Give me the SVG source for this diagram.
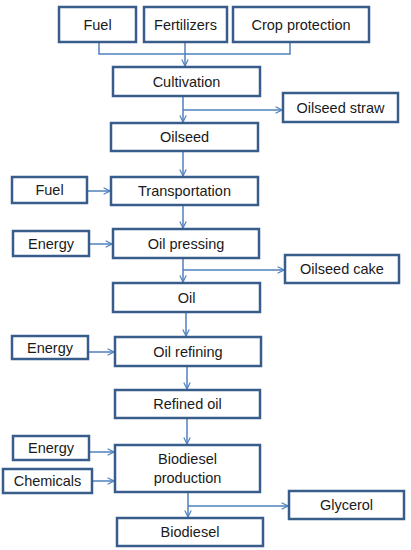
<svg xmlns="http://www.w3.org/2000/svg" width="411" height="550" viewBox="0 0 411 550">
<style>
.box{fill:#fff;stroke:#385D8A;stroke-width:2.5}
.lbl{font-family:"Liberation Sans",Arial,sans-serif;font-size:14.5px;fill:#1a1a1a;text-anchor:middle}
.con{fill:none;stroke:#4F81BD;stroke-width:1.5}
</style>
<defs>
<marker id="arr" viewBox="0 0 10 10" refX="9" refY="5" markerWidth="8" markerHeight="8" markerUnits="userSpaceOnUse" orient="auto">
<path d="M1,1 L9,5 L1,9" fill="none" stroke="#4F81BD" stroke-width="1.5"/>
</marker>
</defs>
<rect width="411" height="550" fill="#fff"/>
<g id="connectors">
<path class="con" d="M99,42 V54 H290 V42"/>
<path class="con" d="M185,42 V66" marker-end="url(#arr)"/>
<path class="con" d="M183,96 V122" marker-end="url(#arr)"/>
<path class="con" d="M183,110 H282" marker-end="url(#arr)"/>
<path class="con" d="M183,151 V176" marker-end="url(#arr)"/>
<path class="con" d="M87,191 H110" marker-end="url(#arr)"/>
<path class="con" d="M183,205 V228" marker-end="url(#arr)"/>
<path class="con" d="M89,244 H112" marker-end="url(#arr)"/>
<path class="con" d="M183,258 V282" marker-end="url(#arr)"/>
<path class="con" d="M183,270 H284" marker-end="url(#arr)"/>
<path class="con" d="M186,312 V336" marker-end="url(#arr)"/>
<path class="con" d="M88,352 H114" marker-end="url(#arr)"/>
<path class="con" d="M187,366 V389" marker-end="url(#arr)"/>
<path class="con" d="M187,418 V444" marker-end="url(#arr)"/>
<path class="con" d="M89,452 H114" marker-end="url(#arr)"/>
<path class="con" d="M92,481 H114" marker-end="url(#arr)"/>
<path class="con" d="M188,492 V517" marker-end="url(#arr)"/>
<path class="con" d="M188,506 H288" marker-end="url(#arr)"/>
</g>
<g id="fuel1"><rect class="box" x="59" y="7" width="77" height="35"/><text class="lbl" x="97.5" y="29.5">Fuel</text></g>
<g id="fertilizers"><rect class="box" x="144" y="7" width="83" height="35"/><text class="lbl" x="185.5" y="29.5">Fertilizers</text></g>
<g id="crop"><rect class="box" x="233" y="7" width="136" height="35"/><text class="lbl" x="301" y="29.5">Crop protection</text></g>
<g id="cultivation"><rect class="box" x="113" y="67" width="147" height="29"/><text class="lbl" x="186.5" y="86.5">Cultivation</text></g>
<g id="straw"><rect class="box" x="283" y="93" width="115" height="29"/><text class="lbl" x="340.5" y="112.5">Oilseed straw</text></g>
<g id="oilseed"><rect class="box" x="111" y="123" width="147" height="28"/><text class="lbl" x="184.5" y="142">Oilseed</text></g>
<g id="fuel2"><rect class="box" x="12" y="177" width="75" height="26"/><text class="lbl" x="49.5" y="195">Fuel</text></g>
<g id="transportation"><rect class="box" x="111" y="177" width="147" height="28"/><text class="lbl" x="184.5" y="196">Transportation</text></g>
<g id="energy1"><rect class="box" x="13" y="231" width="76" height="25"/><text class="lbl" x="51" y="248.5">Energy</text></g>
<g id="pressing"><rect class="box" x="113" y="229" width="146" height="29"/><text class="lbl" x="186" y="248.5">Oil pressing</text></g>
<g id="cake"><rect class="box" x="285" y="255" width="114" height="28"/><text class="lbl" x="342" y="274">Oilseed cake</text></g>
<g id="oil"><rect class="box" x="113" y="283" width="147" height="29"/><text class="lbl" x="186.5" y="302.5">Oil</text></g>
<g id="energy2"><rect class="box" x="12" y="336" width="76" height="23"/><text class="lbl" x="50" y="352.5">Energy</text></g>
<g id="refining"><rect class="box" x="115" y="337" width="146" height="29"/><text class="lbl" x="188" y="356.5">Oil refining</text></g>
<g id="refined"><rect class="box" x="115" y="390" width="145" height="28"/><text class="lbl" x="187.5" y="409">Refined oil</text></g>
<g id="energy3"><rect class="box" x="13" y="436" width="76" height="24"/><text class="lbl" x="51" y="453">Energy</text></g>
<g id="chemicals"><rect class="box" x="3" y="469" width="89" height="24"/><text class="lbl" x="47.5" y="486">Chemicals</text></g>
<g id="biodieselprod"><rect class="box" x="115" y="445" width="145" height="47"/><text class="lbl" x="187.5" y="464">Biodiesel</text><text class="lbl" x="187.5" y="483">production</text></g>
<g id="glycerol"><rect class="box" x="289" y="491" width="115" height="28"/><text class="lbl" x="346.5" y="510">Glycerol</text></g>
<g id="biodiesel"><rect class="box" x="117" y="518" width="146" height="28"/><text class="lbl" x="190" y="537">Biodiesel</text></g>
</svg>
